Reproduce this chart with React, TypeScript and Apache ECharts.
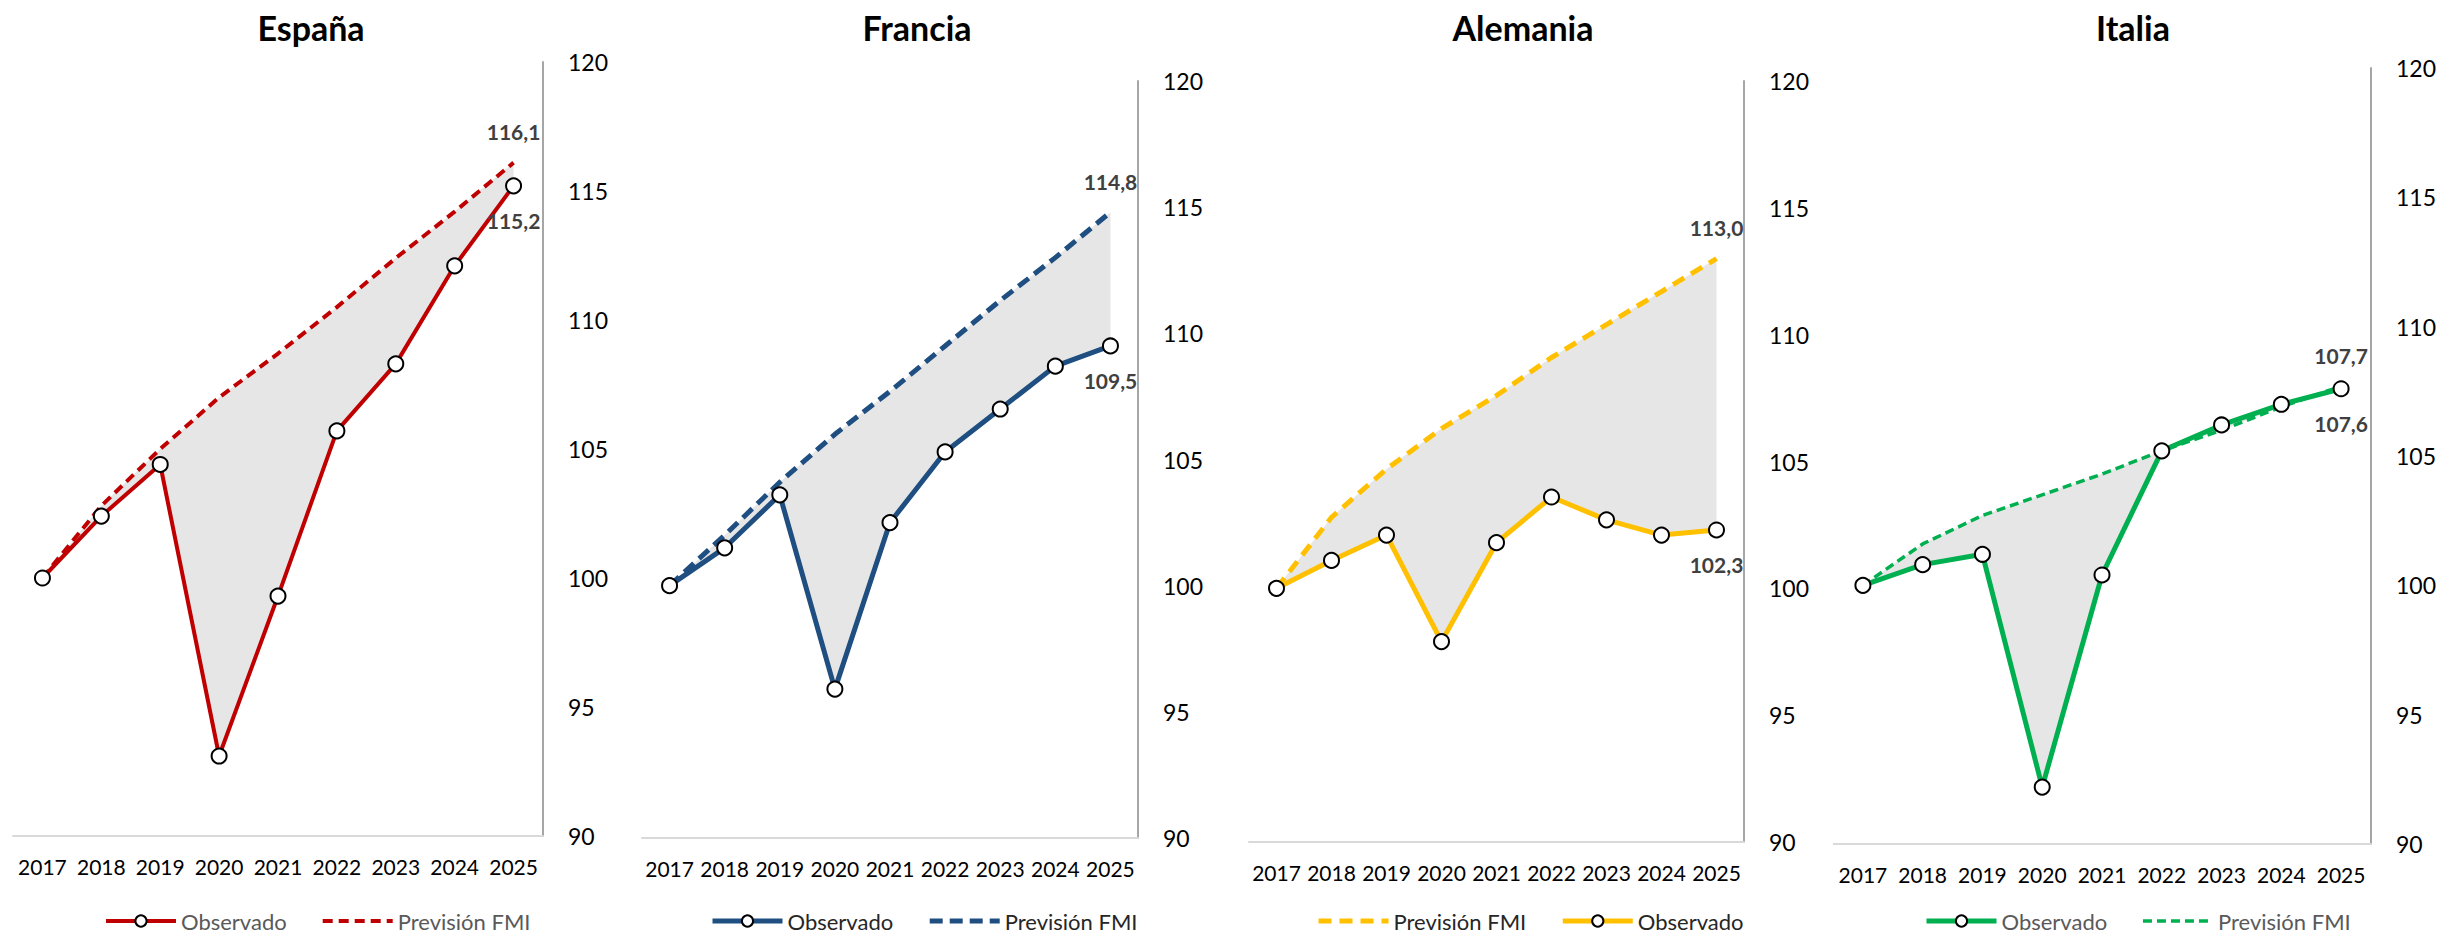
import React, { useEffect, useRef } from "react";
import * as echarts from "echarts";

const FONT = "Lato, 'Noto Sans', sans-serif";

// ---- Data ----
const years = ["2017", "2018", "2019", "2020", "2021", "2022", "2023", "2024", "2025"];

const espanaObservado = [100, 102.4, 104.4, 93.1, 99.3, 105.7, 108.3, 112.1, 115.2];
const espanaPrevision = [100, 102.8, 105.0, 107.0, 108.7, 110.5, 112.4, 114.2, 116.1];

const franciaObservado = [100, 101.5, 103.6, 95.9, 102.5, 105.3, 107.0, 108.7, 109.5];
const franciaPrevision = [100, 102.0, 104.1, 106.0, 107.7, 109.5, 111.3, 113.0, 114.8];

const alemaniaObservado = [100, 101.1, 102.1, 97.9, 101.8, 103.6, 102.7, 102.1, 102.3];
const alemaniaPrevision = [100, 102.8, 104.7, 106.3, 107.6, 109.1, 110.4, 111.7, 113.0];

const italiaObservado = [100, 100.8, 101.2, 92.2, 100.4, 105.2, 106.2, 107.0, 107.6];
const italiaPrevision = [100, 101.6, 102.7, 103.5, 104.3, 105.2, 106.0, 106.9, 107.7];

const yMin = 90;
const yMax = 120;
const yStep = 5;

const OBS = "Observado";
const FC = "Previsión FMI";

type PanelCfg = {
  title: string;
  obs: number[];
  fc: number[];
  left: number;
  width: number;
  titleX: number;
  grid: { left: number; top: number; width: number; height: number };
  color: string;
  obsWidth: number;
  fcWidth: number;
  fcDash: number[];
  legendOrder: string[];
  legendLeft: number;
  legendColor: string;
};

const panels: PanelCfg[] = [
  {
    title: "España",
    obs: espanaObservado,
    fc: espanaPrevision,
    left: 0,
    width: 612,
    titleX: 311,
    grid: { left: 13, top: 62, width: 530, height: 774 },
    color: "#C00000",
    obsWidth: 4,
    fcWidth: 4,
    fcDash: [10, 6],
    legendOrder: [OBS, FC],
    legendLeft: 99,
    legendColor: "#595959",
  },
  {
    title: "Francia",
    obs: franciaObservado,
    fc: franciaPrevision,
    left: 612,
    width: 612,
    titleX: 305,
    grid: { left: 30, top: 81, width: 496, height: 757 },
    color: "#1F4E80",
    obsWidth: 5,
    fcWidth: 5,
    fcDash: [13, 7],
    legendOrder: [OBS, FC],
    legendLeft: 93,
    legendColor: "#262626",
  },
  {
    title: "Alemania",
    obs: alemaniaObservado,
    fc: alemaniaPrevision,
    left: 1224,
    width: 609,
    titleX: 299,
    grid: { left: 25, top: 81, width: 495, height: 761 },
    color: "#FFC000",
    obsWidth: 5,
    fcWidth: 5,
    fcDash: [13, 8],
    legendOrder: [FC, OBS],
    legendLeft: 87,
    legendColor: "#262626",
  },
  {
    title: "Italia",
    obs: italiaObservado,
    fc: italiaPrevision,
    left: 1833,
    width: 610,
    titleX: 300,
    grid: { left: 0, top: 68, width: 538, height: 776 },
    color: "#00B050",
    obsWidth: 5,
    fcWidth: 3.5,
    fcDash: [9, 5],
    legendOrder: [OBS, FC],
    legendLeft: 86,
    legendColor: "#595959",
  },
];

const fmt = (v: number) => v.toFixed(1).replace(".", ",");

function buildOption(p: PanelCfg) {
  const last = years.length - 1;
  const base = p.obs.map((o, i) => Math.min(o, p.fc[i]));
  const band = p.obs.map((o, i) => +Math.abs(p.fc[i] - o).toFixed(3));
  const labelStyle = {
    show: true,
    fontSize: 21,
    fontWeight: "bold" as const,
    color: "#404040",
    opacity: 1,
    fontFamily: FONT,
    formatter: (d: any) => fmt(Array.isArray(d.value) ? d.value[1] : d.value),
  };
  const fcLabelData = p.fc.map((v, i) => (i === last ? v : "-"));
  const obsData = p.obs.map((v, i) =>
    i === last ? { value: v, label: { ...labelStyle, position: "bottom", distance: 16 } } : v
  );

  const legendData = p.legendOrder.map((n) =>
    n === OBS
      ? { name: n, lineStyle: { width: p.obsWidth } }
      : {
          name: n,
          lineStyle: { width: p.fcWidth },
          itemStyle: { opacity: 0, borderWidth: 0 },
        }
  );

  return {
    animation: false,
    textStyle: { fontFamily: FONT },
    graphic: [
      {
        type: "text",
        x: p.titleX,
        y: 27,
        style: {
          text: p.title,
          fontSize: 34,
          fontWeight: "bold",
          fill: "#000",
          align: "center",
          verticalAlign: "middle",
          fontFamily: FONT,
        },
      },
    ],
    grid: { ...p.grid, containLabel: false },
    xAxis: {
      type: "category",
      data: years,
      boundaryGap: true,
      axisLine: { show: true, lineStyle: { color: "#D9D9D9", width: 2 } },
      axisTick: { show: false },
      axisLabel: { interval: 0, fontSize: 21, color: "#000", margin: 20, fontFamily: FONT },
      splitLine: { show: false },
    },
    yAxis: {
      type: "value",
      position: "right",
      min: yMin,
      max: yMax,
      interval: yStep,
      axisLine: { show: true, lineStyle: { color: "#A6A6A6", width: 2 } },
      axisTick: { show: false },
      splitLine: { show: false },
      axisLabel: { fontSize: 23, color: "#000", margin: 25, fontFamily: FONT },
    },
    legend: {
      top: 905,
      left: p.legendLeft,
      itemWidth: 70,
      itemHeight: 14,
      itemGap: 34,
      data: legendData,
      textStyle: { fontSize: 22, color: p.legendColor, fontFamily: FONT },
      selectedMode: false,
    },
    series: [
      {
        name: "base",
        type: "line",
        stack: "gap",
        data: base,
        symbol: "none",
        lineStyle: { width: 0, opacity: 0 },
        silent: true,
        z: 1,
      },
      {
        name: "band",
        type: "line",
        stack: "gap",
        data: band,
        symbol: "none",
        lineStyle: { width: 0, opacity: 0 },
        areaStyle: { color: "#E7E6E6", opacity: 1 },
        silent: true,
        z: 1,
      },
      {
        name: FC,
        type: "line",
        data: p.fc,
        symbol: "none",
        lineStyle: { color: p.color, width: p.fcWidth, type: p.fcDash },
        itemStyle: { color: p.color },
        z: 3,
      },
      {
        name: "fcLabel",
        type: "scatter",
        data: fcLabelData,
        symbolSize: 1,
        itemStyle: { color: "rgba(0,0,0,0)", opacity: 1 },
        label: { ...labelStyle, position: "top", distance: 20 },
        silent: true,
        z: 5,
      },
      {
        name: OBS,
        type: "line",
        data: obsData,
        symbol: "circle",
        symbolSize: 15,
        lineStyle: { color: p.color, width: p.obsWidth },
        itemStyle: { color: "#FFFFFF", borderColor: "#000000", borderWidth: 2 },
        z: 4,
      },
    ],
  };
}

function Panel({ cfg }: { cfg: PanelCfg }) {
  const ref = useRef<HTMLDivElement>(null);
  useEffect(() => {
    if (!ref.current) return;
    const chart = echarts.init(ref.current, null, { renderer: "svg" });
    chart.setOption(buildOption(cfg) as any);
    return () => chart.dispose();
  }, [cfg]);
  return (
    <div
      ref={ref}
      style={{ position: "absolute", left: cfg.left, top: 0, width: cfg.width, height: 937 }}
    />
  );
}

export default function App() {
  return (
    <div
      style={{
        position: "fixed",
        left: 0,
        top: 0,
        width: 2443,
        height: 937,
        background: "#ffffff",
        overflow: "hidden",
      }}
    >
      {panels.map((p) => (
        <Panel key={p.title} cfg={p} />
      ))}
    </div>
  );
}
